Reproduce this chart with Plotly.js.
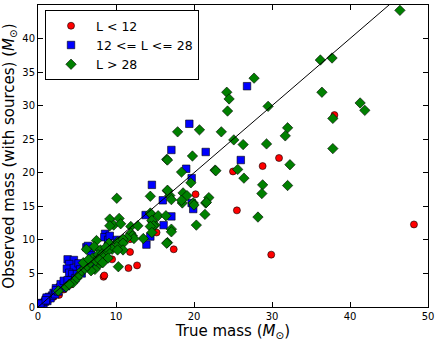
<!DOCTYPE html>
<html>
<head>
<meta charset="utf-8">
<script src="https://cdn.plot.ly/plotly-3.0.1.min.js"></script>
<style>
  html, body { margin: 0; padding: 0; background: #fff; }
  #plot { width: 436px; height: 341px; }
</style>
</head>
<body>
<div id="plot"></div>
<script>
// true mass vs observed mass, split by L
var lowX  = [48.2, 29.9, 38.0, 30.9, 28.8, 25.0, 25.5, 20.2, 15.2, 17.4, 11.8, 11.8, 9.5, 11.6, 12.7, 8.4, 9.5, 8.5, 2.7, 4.1, 4.0, 1.3, 0.6, 2.0, 3.3, 5.5, 7.0];
var lowY  = [12.3, 7.8, 28.6, 22.2, 21.0, 20.2, 14.4, 16.8, 11.1, 8.6, 10.1, 8.2, 7.1, 5.8, 6.2, 4.5, 8.7, 4.7, 1.8, 3.3, 3.4, 1.0, 0.4, 1.5, 2.6, 5.2, 6.9];

var midX  = [26.8, 19.4, 17.1, 21.5, 26.0, 19.0, 19.7, 14.6, 16.0, 19.7, 19.9, 17.1, 13.8, 16.1, 14.4, 13.9,
             8.6, 8.5, 9.0, 9.2, 10.1, 6.8, 6.2, 6.6, 6.4, 3.8, 4.6, 4.0, 3.7, 4.6, 4.0, 4.4, 5.2, 5.4, 6.5, 7.0, 7.7,
             0.2, 0.4, 0.5, 0.7, 0.9, 1.0, 1.2, 1.4, 1.6, 1.8, 2.0, 2.2, 2.4, 2.6, 2.8, 3.0, 3.2, 3.4, 3.6, 3.9,
             4.2, 4.8, 5.0, 5.6, 6.1, 0.3, 1.1, 2.3, 2.9, 3.3, 3.8, 2.3, 1.0];
var midY  = [32.9, 27.3, 23.4, 23.1, 21.9, 20.6, 19.2, 18.2, 15.9, 15.5, 14.6, 13.5, 13.7, 12.2, 10.5, 9.3,
             10.9, 10.4, 10.0, 10.6, 10.0, 7.9, 8.9, 8.8, 9.1, 7.1, 7.0, 6.4, 5.7, 5.8, 5.1, 4.9, 6.5, 5.6, 6.2, 6.5, 7.3,
             0.1, 0.3, 0.6, 0.5, 0.8, 1.1, 0.9, 1.5, 1.3, 1.7, 2.1, 1.9, 2.6, 2.3, 2.9, 3.2, 2.8, 3.5, 3.1, 3.8,
             4.0, 4.3, 4.9, 5.0, 5.9, 0.5, 1.4, 2.8, 3.4, 3.9, 4.0, 2.5, 1.0];

var highX = [46.4, 36.2, 37.7, 36.4, 41.3, 41.9, 37.8, 37.8, 24.2, 24.5, 24.3, 29.5, 27.7, 23.5, 32.0, 31.7,
             25.1, 26.3, 29.3, 32.3, 25.6, 26.4, 28.8, 32.0, 28.7, 28.2, 21.4, 21.5, 21.9, 22.7,
             17.9, 20.7, 19.8, 16.5, 18.4, 22.8, 19.6, 16.6, 16.9, 17.1, 18.6, 19.1, 21.6, 18.5, 18.4, 19.9, 20.0,
             14.5, 15.4, 16.4, 14.7, 15.0, 20.3, 17.1,
             9.2, 9.7, 9.2, 14.4, 14.6, 14.8, 14.4, 11.9, 12.8, 14.6, 13.5, 16.6, 11.9, 12.1, 12.3, 11.4, 10.2, 9.1,
             7.5, 10.9, 10.9, 10.1, 10.9, 9.5, 7.2, 7.9, 7.3, 10.3, 10.1, 14.4, 10.4, 10.6, 8.0, 10.2, 6.2, 6.8,
             16.5, 17.1, 16.6, 16.6,
             4.5, 5.0, 5.3, 5.6, 6.0, 6.3, 6.7, 7.0, 7.4, 7.7, 8.0, 8.3, 8.6, 8.9, 3.6, 4.0, 2.6, 5.8, 6.5, 7.9, 8.3, 9.0, 8.7];
var highY = [44.2, 36.8, 37.1, 32.0, 30.4, 29.3, 28.1, 23.6, 32.0, 31.0, 29.2, 29.9, 34.1, 26.1, 26.7, 25.5,
             24.9, 24.2, 24.3, 21.2, 20.5, 19.2, 18.2, 18.1, 16.9, 13.4, 13.8, 15.5, 16.3, 20.4,
             26.1, 26.4, 22.5, 22.0, 20.1, 20.3, 18.5, 17.3, 16.6, 16.0, 17.0, 16.6, 15.6, 15.5, 15.9, 15.5, 15.2,
             13.8, 13.6, 13.6, 12.7, 12.2, 12.2, 11.6,
             13.1, 12.2, 12.1, 14.0, 12.9, 12.1, 12.0, 12.0, 12.1, 11.1, 10.2, 9.6, 11.0, 10.6, 10.2, 10.3, 9.7, 9.5,
             9.9, 10.1, 9.5, 9.0, 8.5, 8.6, 9.0, 6.4, 5.6, 6.0, 16.2, 16.5, 13.2, 12.4, 8.5, 8.5, 8.6, 5.4,
             9.5, 11.2, 17.4, 21.9,
             3.6, 4.3, 4.8, 5.4, 5.7, 6.1, 6.6, 7.3, 6.9, 7.8, 7.5, 8.0, 7.6, 8.3, 3.0, 3.4, 2.4, 6.6, 7.1, 7.0, 6.6, 7.3, 8.9];

// one-to-one reference line
var oneToOne = [0, 50];

var edge = {color: "black", width: 0.6};

var traces = [
  {x: lowX, y: lowY, name: "L < 12", type: "scatter", mode: "markers",
   marker: {symbol: "circle", size: 7, color: "#ff0000", line: edge}},
  {x: midX, y: midY, name: "12 <= L <= 28", type: "scatter", mode: "markers",
   marker: {symbol: "square", size: 7.5, color: "#0000ff", line: edge}},
  {x: highX, y: highY, name: "L > 28", type: "scatter", mode: "markers",
   marker: {symbol: "diamond", size: 8, color: "#008000", line: edge}},
  {x: oneToOne, y: oneToOne, type: "scatter", mode: "lines", showlegend: false,
   line: {color: "black", width: 1}}
];

var axisStyle = {
  showline: true, linecolor: "black", linewidth: 1, mirror: "ticks",
  ticks: "inside", ticklen: 5, tickcolor: "black",
  showgrid: false, zeroline: false,
  tickfont: {size: 10, color: "black"}
};

var layout = {
  width: 436, height: 341,
  margin: {l: 38, r: 8, t: 5, b: 34},
  paper_bgcolor: "white", plot_bgcolor: "white",
  font: {family: "DejaVu Sans", color: "black"},
  xaxis: Object.assign({}, axisStyle, {
    range: [0, 50], dtick: 10,
    title: {text: "True mass (<i>M</i><sub>⊙</sub>)", font: {size: 15}, standoff: 4}
  }),
  yaxis: Object.assign({}, axisStyle, {
    range: [0, 45], dtick: 5,
    title: {text: "Observed mass (with sources) (<i>M</i><sub>⊙</sub>)", font: {size: 15}, standoff: 6}
  }),
  legend: {
    x: 0.018, y: 0.983, xanchor: "left", yanchor: "top",
    bgcolor: "white", bordercolor: "black", borderwidth: 1,
    font: {size: 12.5}, tracegroupgap: 0, itemwidth: 40
  },
  showlegend: true
};

Plotly.newPlot("plot", traces, layout, {displayModeBar: false, staticPlot: true});
</script>
</body>
</html>
